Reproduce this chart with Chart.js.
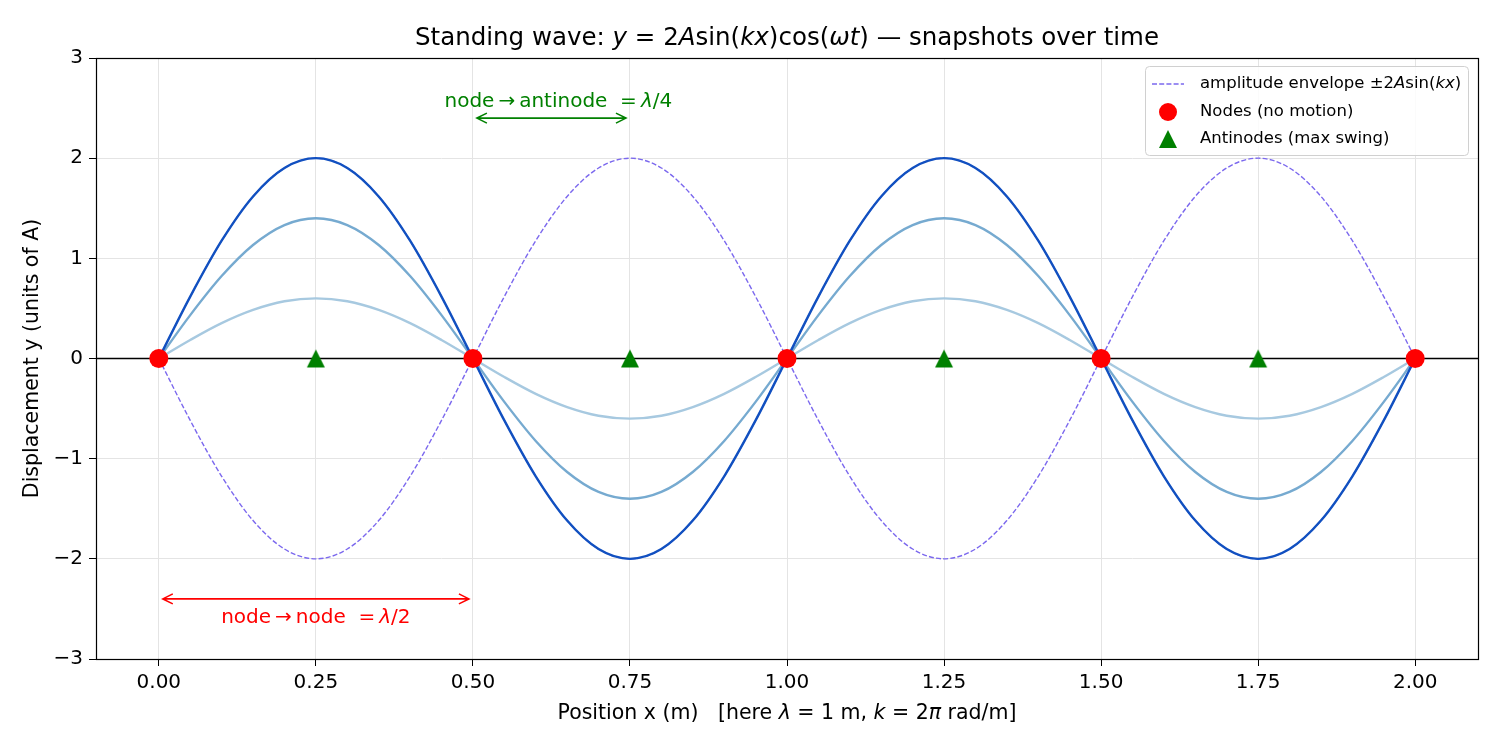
<!DOCTYPE html>
<html>
<head>
<meta charset="utf-8">
<script src="https://cdn.jsdelivr.net/npm/chart.js@4.4.1/dist/chart.umd.min.js"></script>
<style>
html,body{margin:0;padding:0;background:#fff;}
#wrap{width:1500px;height:750px;}
</style>
</head>
<body>
<div id="wrap"><canvas id="c" width="1500" height="750"></canvas></div>
<script>
// ---------- data ----------
const xs = [0,0.05,0.1,0.15,0.2,0.25,0.3,0.35,0.4,0.45,0.5,0.55,0.6,0.65,0.7,0.75,0.8,0.85,0.9,0.95,1.0,
            1.05,1.1,1.15,1.2,1.25,1.3,1.35,1.4,1.45,1.5,1.55,1.6,1.65,1.7,1.75,1.8,1.85,1.9,1.95,2.0];
const snapFull = [0,0.618,1.176,1.618,1.902,2,1.902,1.618,1.176,0.618,0,-0.618,-1.176,-1.618,-1.902,-2,-1.902,-1.618,-1.176,-0.618,0,
                  0.618,1.176,1.618,1.902,2,1.902,1.618,1.176,0.618,0,-0.618,-1.176,-1.618,-1.902,-2,-1.902,-1.618,-1.176,-0.618,0];
const snapMid = [0,0.433,0.823,1.133,1.332,1.4,1.332,1.133,0.823,0.433,0,-0.433,-0.823,-1.133,-1.332,-1.4,-1.332,-1.133,-0.823,-0.433,0,
                 0.433,0.823,1.133,1.332,1.4,1.332,1.133,0.823,0.433,0,-0.433,-0.823,-1.133,-1.332,-1.4,-1.332,-1.133,-0.823,-0.433,0];
const snapLow = [0,0.185,0.353,0.485,0.571,0.6,0.571,0.485,0.353,0.185,0,-0.185,-0.353,-0.485,-0.571,-0.6,-0.571,-0.485,-0.353,-0.185,0,
                 0.185,0.353,0.485,0.571,0.6,0.571,0.485,0.353,0.185,0,-0.185,-0.353,-0.485,-0.571,-0.6,-0.571,-0.485,-0.353,-0.185,0];
const envUpper = [0,0.618,1.176,1.618,1.902,2,1.902,1.618,1.176,0.618,0,-0.618,-1.176,-1.618,-1.902,-2,-1.902,-1.618,-1.176,-0.618,0,
                  0.618,1.176,1.618,1.902,2,1.902,1.618,1.176,0.618,0,-0.618,-1.176,-1.618,-1.902,-2,-1.902,-1.618,-1.176,-0.618,0];
const envLower = [0,-0.618,-1.176,-1.618,-1.902,-2,-1.902,-1.618,-1.176,-0.618,0,0.618,1.176,1.618,1.902,2,1.902,1.618,1.176,0.618,0,
                  -0.618,-1.176,-1.618,-1.902,-2,-1.902,-1.618,-1.176,-0.618,0,0.618,1.176,1.618,1.902,2,1.902,1.618,1.176,0.618,0];
const nodeX = [0,0.5,1.0,1.5,2.0];
const nodeY = [0,0,0,0,0];
const antiX = [0.25,0.75,1.25,1.75];
const antiY = [0,0,0,0];
const xTicks = [0,0.25,0.5,0.75,1.0,1.25,1.5,1.75,2.0];
const yTicks = [-3,-2,-1,0,1,2,3];

const FONT = '"DejaVu Sans"';
const pts = (X, Y) => X.map((x, i) => ({x: x, y: Y[i]}));

// triangle marker image
function makeTriangle(w, h, color) {
  const c = document.createElement('canvas');
  c.width = w + 2; c.height = h + 2;
  const g = c.getContext('2d');
  g.fillStyle = color;
  g.beginPath();
  g.moveTo(1 + w / 2, 1);
  g.lineTo(1 + w, 1 + h);
  g.lineTo(1, 1 + h);
  g.closePath();
  g.fill();
  return c;
}
const triImg = makeTriangle(18, 18, 'green');

function drawRich(ctx, segs, x, y, size, color, align) {
  const widths = segs.map(s => {
    ctx.font = (s[1] ? 'italic ' : '') + size + 'px ' + FONT;
    return ctx.measureText(s[0]).width;
  });
  const total = widths.reduce((a, b) => a + b, 0);
  let cx = align === 'center' ? x - total / 2 : x;
  ctx.fillStyle = color;
  ctx.textBaseline = 'middle';
  ctx.textAlign = 'left';
  segs.forEach((s, i) => {
    ctx.font = (s[1] ? 'italic ' : '') + size + 'px ' + FONT;
    ctx.fillText(s[0], cx, y);
    cx += widths[i];
  });
}

function drawArrow(ctx, x1, x2, y, color) {
  ctx.save();
  ctx.strokeStyle = color;
  ctx.lineWidth = 1.6;
  ctx.beginPath();
  ctx.moveTo(x1, y); ctx.lineTo(x2, y);
  ctx.moveTo(x1 + 10, y - 5); ctx.lineTo(x1, y); ctx.lineTo(x1 + 10, y + 5);
  ctx.moveTo(x2 - 10, y - 5); ctx.lineTo(x2, y); ctx.lineTo(x2 - 10, y + 5);
  ctx.stroke();
  ctx.restore();
}

const decor = {
  id: 'decor',
  beforeDatasetsDraw(chart) {
    const ctx = chart.ctx, a = chart.chartArea;
    const y0 = chart.scales.y.getPixelForValue(0);
    ctx.save();
    ctx.strokeStyle = '#000';
    ctx.lineWidth = 1.3;
    ctx.beginPath();
    ctx.moveTo(a.left, y0); ctx.lineTo(a.right, y0);
    ctx.stroke();
    ctx.restore();
  },
  afterDatasetsDraw(chart) {
    const ctx = chart.ctx, a = chart.chartArea;
    const sx = chart.scales.x, sy = chart.scales.y;
    ctx.save();
    // frame
    ctx.strokeStyle = '#000';
    ctx.lineWidth = 1.2;
    ctx.strokeRect(Math.round(a.left) + 0.5, Math.round(a.top) + 0.5, Math.round(a.right - a.left), Math.round(a.bottom - a.top));

    // annotations
    const px = v => sx.getPixelForValue(v), py = v => sy.getPixelForValue(v);
    drawArrow(ctx, px(0) + 4, px(0.5) - 4, py(-2.4), 'red');
    drawRich(ctx, [['node', false], ['\u2009\u2192\u2009', false], ['node  =\u2009', false], ['\u03bb', true], ['/2', false]],
             px(0.25), py(-2.59), 20, 'red', 'center');
    drawArrow(ctx, px(0.5) + 4, px(0.75) - 4, py(2.4), 'green');
    drawRich(ctx, [['node', false], ['\u2009\u2192\u2009', false], ['antinode  =\u2009', false], ['\u03bb', true], ['/4', false]],
             px(0.636), py(2.565), 20, 'green', 'center');

    // title
    const cx = (a.left + a.right) / 2;
    drawRich(ctx, [['Standing wave: ', false], ['y', true], [' = 2', false], ['A', true], ['sin(', false], ['kx', true],
                   [')cos(', false], ['\u03c9t', true], [') \u2014 snapshots over time', false]],
             cx, 39, 24.5, '#000', 'center');
    // x label
    drawRich(ctx, [['Position x (m)   [here ', false], ['\u03bb', true], [' = 1 m, ', false], ['k', true], [' = 2', false],
                   ['\u03c0', true], [' rad/m]', false]], cx, 714, 20.5, '#000', 'center');
    // y label
    ctx.save();
    ctx.translate(33, (a.top + a.bottom) / 2);
    ctx.rotate(-Math.PI / 2);
    drawRich(ctx, [['Displacement y (units of A)', false]], 0, 0, 20.5, '#000', 'center');
    ctx.restore();

    // legend
    const lx = 1145, ly = 66, lw = 323, lh = 89;
    ctx.fillStyle = 'rgba(255,255,255,0.85)';
    ctx.strokeStyle = '#d0d0d0';
    ctx.lineWidth = 1;
    ctx.beginPath();
    ctx.roundRect(lx + 0.5, ly + 0.5, lw, lh, 4);
    ctx.fill(); ctx.stroke();
    const rows = [84, 112, 139];
    ctx.strokeStyle = '#7b68ee';
    ctx.lineWidth = 1.4;
    ctx.setLineDash([5, 2.2]);
    ctx.beginPath(); ctx.moveTo(1152, rows[0]); ctx.lineTo(1184, rows[0]); ctx.stroke();
    ctx.setLineDash([]);
    ctx.fillStyle = 'red';
    ctx.beginPath(); ctx.arc(1168, rows[1], 9, 0, Math.PI * 2); ctx.fill();
    ctx.drawImage(triImg, 1168 - triImg.width / 2, rows[2] - triImg.height / 2);
    drawRich(ctx, [['amplitude envelope \u00b12', false], ['A', true], ['sin(', false], ['kx', true], [')', false]],
             1200, rows[0], 16.5, '#000', 'left');
    drawRich(ctx, [['Nodes (no motion)', false]], 1200, rows[1], 16.5, '#000', 'left');
    drawRich(ctx, [['Antinodes (max swing)', false]], 1200, rows[2], 16.5, '#000', 'left');
    ctx.restore();
  }
};

const lineDs = (label, X, Y, color, width, dash) => ({
  type: 'line', label: label, data: pts(X, Y), borderColor: color, borderWidth: width,
  borderDash: dash || [], pointRadius: 0, fill: false, cubicInterpolationMode: 'monotone'
});

// Chart.js draws dataset 0 on top, so the list goes from top layer to bottom layer
new Chart(document.getElementById('c'), {
  type: 'line',
  data: {
    datasets: [
      { type: 'scatter', label: 'Antinodes', data: pts(antiX, antiY), pointStyle: triImg, pointRadius: 10,
        backgroundColor: 'green', borderWidth: 0, showLine: false },
      { type: 'scatter', label: 'Nodes', data: pts(nodeX, nodeY), pointRadius: 9.5, pointHoverRadius: 9.5,
        backgroundColor: 'red', borderWidth: 0, showLine: false },
      lineDs('t1', xs, snapFull, '#1150c0', 2.4),
      lineDs('t2', xs, snapMid, '#76aad0', 2.4),
      lineDs('t3', xs, snapLow, '#a7c9e0', 2.4),
      lineDs('envelope -', xs, envLower, '#7b68ee', 1.4, [5, 2.2]),
      lineDs('envelope +', xs, envUpper, '#7b68ee', 1.4, [5, 2.2])
    ]
  },
  options: {
    responsive: false,
    animation: false,
    events: [],
    layout: { padding: { left: 0, right: 22, top: 58, bottom: 0 } },
    plugins: { legend: { display: false }, title: { display: false }, tooltip: { enabled: false } },
    scales: {
      x: {
        type: 'linear', min: -0.1, max: 2.1,
        afterBuildTicks: s => { s.ticks = xTicks.map(v => ({ value: v })); },
        afterFit: s => { s.height = 91; },
        grid: { color: '#e4e4e4', lineWidth: 1, tickColor: '#000', tickLength: 7, drawTicks: true },
        border: { display: false },
        ticks: { color: '#000', font: { family: 'DejaVu Sans', size: 20 }, padding: 5,
                 maxRotation: 0, callback: v => Number(v).toFixed(2) }
      },
      y: {
        type: 'linear', min: -3, max: 3,
        afterBuildTicks: s => { s.ticks = yTicks.map(v => ({ value: v })); },
        afterFit: s => { s.width = 96; },
        grid: { color: '#e4e4e4', lineWidth: 1, tickColor: '#000', tickLength: 7, drawTicks: true },
        border: { display: false },
        ticks: { color: '#000', font: { family: 'DejaVu Sans', size: 20 }, padding: 6,
                 callback: v => String(v).replace('-', '\u2212') }
      }
    }
  },
  plugins: [decor]
});
</script>
</body>
</html>
